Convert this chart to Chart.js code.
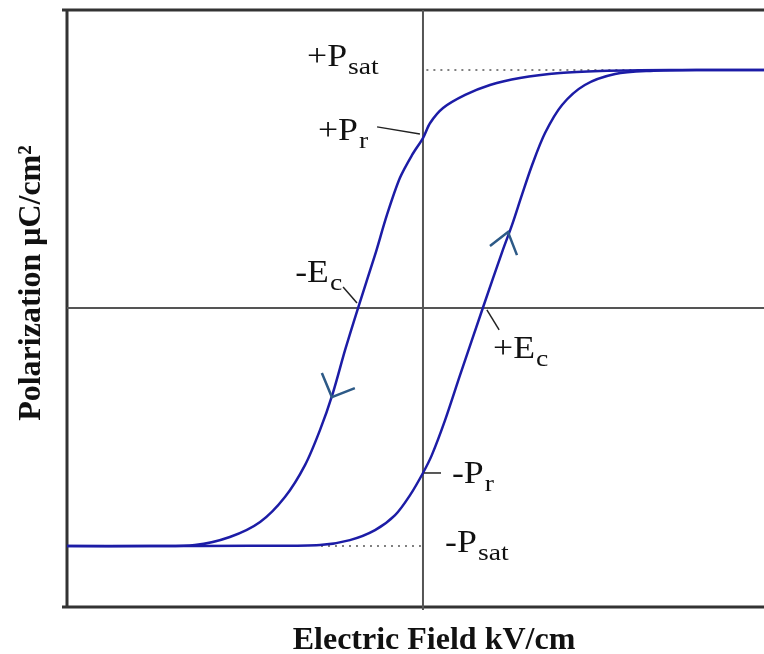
<!DOCTYPE html>
<html>
<head>
<meta charset="utf-8">
<script src="https://cdn.jsdelivr.net/npm/chart.js@4.4.1/dist/chart.umd.min.js"></script>
<style>
  html, body { margin: 0; padding: 0; background: #fff; }
  #wrap { width: 764px; height: 654px; }
</style>
</head>
<body>
<div id="wrap"><canvas id="loop"></canvas></div>
<script>
// field in arbitrary units, polarization normalised to Psat
const xMin = -10.47, xMax = 10.03;
const yMin = -1.256, yMax = 1.252;

// descending branch (+E -> -E)
const downX = [10.03, 8.15, 6.38, 5.21, 4.03, 2.85, 1.97, 1.24, 0.59, 0.21, 0, -0.32, -0.68, -1.06, -1.41, -1.91, -2.29, -2.65, -3.03, -3.47, -4.06, -4.79, -5.68, -6.71, -8.03, -10.47];
const downY = [1.0, 1.0, 0.999, 0.996, 0.987, 0.966, 0.937, 0.895, 0.840, 0.777, 0.714, 0.643, 0.546, 0.391, 0.223, 0, -0.176, -0.357, -0.513, -0.660, -0.794, -0.899, -0.962, -0.996, -1.0, -1.0];

// ascending branch (-E -> +E)
const upX = [-10.47, -8.03, -5.09, -3.03, -2.15, -1.41, -0.82, -0.38, 0, 0.26, 0.65, 1.09, 1.76, 2.35, 2.62, 2.91, 3.21, 3.59, 4.09, 4.76, 5.65, 6.68, 8.15, 10.03];
const upY = [-1.0, -1.0, -0.999, -0.996, -0.975, -0.933, -0.870, -0.786, -0.693, -0.618, -0.471, -0.282, 0, 0.244, 0.349, 0.475, 0.601, 0.735, 0.853, 0.937, 0.983, 0.996, 1.0, 1.0];

// labels: [main, subscript, x, y]
const labels = [
    ['+P', 'sat', -3.41, 1.017],
    ['+P', 'r', -3.09, 0.706],
    ['-E', 'c', -3.76, 0.109],
    ['+E', 'c', 2.06, -0.210],
    ['-P', 'r', 0.85, -0.735],
    ['-P', 'sat', 0.65, -1.025]
];
// leader lines [x1, y1, x2, y2]
const leaders = [
    [-1.35, 0.761, -0.09, 0.731],
    [-2.35, 0.088, -1.94, 0.021],
    [1.88, -0.008, 2.24, -0.092],
    [0.03, -0.693, 0.53, -0.693]
];
// arrow heads [tipX, tipY, direction]
const arrows = [
    [-2.68, -0.374, 'down'],
    [2.50, 0.319, 'up']
];

const xTitle = 'Electric Field kV/cm';
const yTitle = 'Polarization \u03bcC/cm\u00b2';

function toPts(xs, ys) {
    return xs.map((x, i) => ({ x: x, y: ys[i] }));
}

const decor = {
    id: 'decor',
    beforeDatasetsDraw(chart) {
        const { ctx, chartArea: a, scales: { x, y } } = chart;
        ctx.save();
        // frame
        ctx.strokeStyle = '#333';
        ctx.lineWidth = 3;
        ctx.beginPath();
        ctx.moveTo(a.left - 5, a.top);
        ctx.lineTo(a.right, a.top);
        ctx.moveTo(a.left, a.top);
        ctx.lineTo(a.left, a.bottom);
        ctx.moveTo(a.left - 5, a.bottom);
        ctx.lineTo(a.right, a.bottom);
        ctx.stroke();
        // zero axes
        ctx.strokeStyle = '#555';
        ctx.lineWidth = 2;
        ctx.beginPath();
        ctx.moveTo(x.getPixelForValue(0), a.top);
        ctx.lineTo(x.getPixelForValue(0), a.bottom + 3);
        ctx.moveTo(a.left, y.getPixelForValue(0));
        ctx.lineTo(a.right, y.getPixelForValue(0));
        ctx.stroke();
        // saturation dotted lines
        ctx.strokeStyle = '#555';
        ctx.lineWidth = 1.5;
        ctx.setLineDash([2, 5]);
        ctx.beginPath();
        ctx.moveTo(x.getPixelForValue(0.1), y.getPixelForValue(1));
        ctx.lineTo(a.right, y.getPixelForValue(1));
        ctx.moveTo(x.getPixelForValue(-3.0), y.getPixelForValue(-1));
        ctx.lineTo(x.getPixelForValue(-0.05), y.getPixelForValue(-1));
        ctx.stroke();
        ctx.restore();
    },
    afterDatasetsDraw(chart) {
        const { ctx, scales: { x, y } } = chart;
        ctx.save();
        // leader lines
        ctx.strokeStyle = '#222';
        ctx.lineWidth = 1.5;
        leaders.forEach(l => {
            ctx.beginPath();
            ctx.moveTo(x.getPixelForValue(l[0]), y.getPixelForValue(l[1]));
            ctx.lineTo(x.getPixelForValue(l[2]), y.getPixelForValue(l[3]));
            ctx.stroke();
        });
        // arrow heads
        ctx.strokeStyle = '#2d5a87';
        ctx.lineWidth = 2.5;
        arrows.forEach(ar => {
            const px = x.getPixelForValue(ar[0]);
            const py = y.getPixelForValue(ar[1]);
            ctx.beginPath();
            if (ar[2] === 'down') {
                ctx.moveTo(px - 10, py - 24);
                ctx.lineTo(px, py);
                ctx.lineTo(px + 23, py - 9);
            } else {
                ctx.moveTo(px - 18, py + 14);
                ctx.lineTo(px, py);
                ctx.lineTo(px + 9, py + 23);
            }
            ctx.stroke();
        });
        // labels, slightly wide like the original scan
        ctx.fillStyle = '#111';
        ctx.textBaseline = 'alphabetic';
        labels.forEach(lb => {
            const px = x.getPixelForValue(lb[2]);
            const py = y.getPixelForValue(lb[3]);
            ctx.save();
            ctx.translate(px, py);
            ctx.scale(1.15, 1);
            ctx.font = '31px "Liberation Serif", serif';
            ctx.fillText(lb[0], 0, 0);
            const w = ctx.measureText(lb[0]).width;
            ctx.font = '24px "Liberation Serif", serif';
            ctx.fillText(lb[1], w + 1, 8);
            ctx.restore();
        });
        // axis titles
        ctx.font = 'bold 32px "Liberation Serif", serif';
        ctx.textAlign = 'center';
        ctx.fillText(xTitle, 434, 649);
        ctx.translate(40, 283);
        ctx.rotate(-Math.PI / 2);
        ctx.fillText(yTitle, 0, 0);
        ctx.restore();
    }
};

new Chart(document.getElementById('loop'), {
    type: 'scatter',
    data: {
        datasets: [
            {
                label: 'descending',
                data: toPts(downX, downY),
                showLine: true,
                borderColor: '#1c1ca6',
                borderWidth: 2.5,
                pointRadius: 0,
                tension: 0.3,
                fill: false
            },
            {
                label: 'ascending',
                data: toPts(upX, upY),
                showLine: true,
                borderColor: '#1c1ca6',
                borderWidth: 2.5,
                pointRadius: 0,
                tension: 0.3,
                fill: false
            }
        ]
    },
    options: {
        responsive: true,
        maintainAspectRatio: false,
        animation: false,
        layout: { padding: { left: 67, top: 10, right: 0, bottom: 47 } },
        plugins: {
            legend: { display: false },
            tooltip: { enabled: false }
        },
        scales: {
            x: { type: 'linear', min: xMin, max: xMax, display: false },
            y: { type: 'linear', min: yMin, max: yMax, display: false }
        }
    },
    plugins: [decor]
});
</script>
</body>
</html>
